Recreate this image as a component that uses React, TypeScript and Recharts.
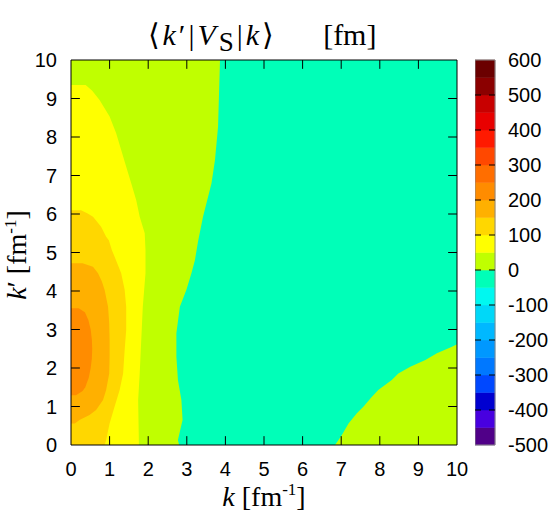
import React from 'react';
import { ComposedChart, Area, XAxis, YAxis, CartesianGrid, ReferenceArea, ReferenceLine } from 'recharts';

// Contour edges: for each k' row, the k where the level ends
const c0Kp = [0, 0.13, 0.65, 1.17, 1.69, 2.29, 2.9, 3.59, 4.03, 4.46, 4.8, 5.28, 5.93, 6.8, 7.4, 8.27, 10];
const c0K = [2.8, 2.77, 2.89, 2.86, 2.77, 2.73, 2.73, 2.82, 2.99, 3.12, 3.21, 3.29, 3.42, 3.64, 3.73, 3.81, 3.86];

const c50Kp = [0, 0.56, 1.17, 1.86, 2.73, 3.59, 4.46, 5.06, 5.5, 5.93, 6.36, 6.8, 7.23, 7.66, 8.1, 8.53, 8.96, 9.2, 9.35];
const c50K = [1.76, 1.75, 1.74, 1.78, 1.82, 1.86, 1.93, 1.93, 1.91, 1.78, 1.69, 1.56, 1.43, 1.3, 1.17, 1.0, 0.74, 0.55, 0.38];

const c100Kp = [0, 0.13, 0.56, 1.0, 1.43, 1.86, 2.47, 2.99, 3.59, 4.03, 4.46, 4.89, 5.06, 5.32, 5.41, 5.67, 5.93, 6.02, 6.1];
const c100K = [0.87, 0.91, 1.0, 1.13, 1.26, 1.35, 1.39, 1.43, 1.43, 1.39, 1.3, 1.13, 1.06, 0.98, 0.91, 0.78, 0.57, 0.42, 0.26];

const c150Kp = [0.56, 0.65, 0.78, 0.91, 1.17, 1.43, 1.86, 2.29, 2.73, 3.16, 3.59, 4.03, 4.25, 4.46, 4.63, 4.72];
const c150K = [0.1, 0.22, 0.48, 0.65, 0.83, 0.91, 0.99, 1.0, 1.0, 0.99, 0.96, 0.87, 0.8, 0.7, 0.57, 0.3];

const c200Kp = [1.29, 1.4, 1.5, 1.75, 2.0, 2.25, 2.5, 2.75, 3.0, 3.25, 3.45, 3.55];
const c200K = [0.13, 0.3, 0.37, 0.46, 0.51, 0.54, 0.55, 0.54, 0.51, 0.45, 0.36, 0.2];

// lower-right positive pocket, filled from the edge out to k = 10
const cRKp = [0, 0.13, 0.3, 0.56, 0.82, 1.0, 1.25, 1.43, 1.69, 1.86, 2.03, 2.21, 2.38, 2.55, 2.62];
const cRK = [6.84, 6.93, 7.04, 7.19, 7.4, 7.58, 7.79, 7.96, 8.31, 8.48, 8.79, 9.18, 9.48, 9.87, 10];

const axisTicks = [0, 1, 2, 3, 4, 5, 6, 7, 8, 9, 10];

// colour bar, bottom to top
const cbLow = [-500, -450, -400, -350, -300, -250, -200, -150, -100, -50, 0, 50, 100, 150, 200, 250, 300, 350, 400, 450, 500, 550];
const cbColors = ['#500088', '#4800e0', '#0000d0', '#0048ff', '#0078ff', '#0098ff', '#00b8ff', '#00d8f8', '#00f8f0', '#00ffb8',
    '#c0ff00', '#ffff00', '#ffd700', '#ffb000', '#ff8c00', '#ff6e00', '#ff4800', '#ff1a00', '#e80000', '#c80000', '#8b0000', '#6b0000'];
const cbTicks = [-500, -400, -300, -200, -100, 0, 100, 200, 300, 400, 500, 600];

const contours = [
    { key: 'c0', kp: c0Kp, k: c0K, color: '#c0ff00', base: 0 },
    { key: 'cR', kp: cRKp, k: cRK, color: '#c0ff00', base: 10 },
    { key: 'c50', kp: c50Kp, k: c50K, color: '#ffff00', base: 0 },
    { key: 'c100', kp: c100Kp, k: c100K, color: '#ffd700', base: 0 },
    { key: 'c150', kp: c150Kp, k: c150K, color: '#ffb000', base: 0 },
    { key: 'c200', kp: c200Kp, k: c200K, color: '#ff8c00', base: 0 },
];

const table = Array.from(new Set(contours.flatMap(c => c.kp)))
    .sort((a, b) => a - b)
    .map(kp => {
        const row: any = { kp };
        contours.forEach(c => {
            const i = c.kp.indexOf(kp);
            row[c.key] = i >= 0 ? c.k[i] : null;
        });
        return row;
    });

const tickFont = { fontFamily: 'Liberation Sans, Arial, sans-serif', fontSize: 20, fill: '#000' };
const serif = 'Liberation Serif, Times New Roman, serif';
const TICK = 0.23; // inward tick length in axis units (~9px)

const App = () => {
    return (
        <div style={{ position: 'absolute', left: 0, top: 0, width: 548, height: 515 }}>
            <div style={{ position: 'absolute', left: 0, top: 0 }}>
                <ComposedChart
                    width={548}
                    height={515}
                    layout="vertical"
                    data={table}
                    margin={{ top: 30, right: 61, left: 41, bottom: 40 }}
                >
                    <CartesianGrid fill="#00ffb8" horizontal={false} vertical={false} stroke="none" />
                    {contours.map(c => (
                        <Area
                            key={c.key}
                            dataKey={c.key}
                            type="linear"
                            baseValue={c.base}
                            stroke="none"
                            fill={c.color}
                            fillOpacity={1}
                            connectNulls
                            dot={false}
                            activeDot={false}
                            isAnimationActive={false}
                        />
                    ))}
                    <XAxis
                        type="number"
                        domain={[0, 10]}
                        ticks={axisTicks}
                        interval={0}
                        height={30}
                        tickLine={false}
                        tickSize={0}
                        tickMargin={17}
                        stroke="#000"
                        tick={tickFont}
                        allowDataOverflow
                    />
                    <XAxis
                        xAxisId="top"
                        orientation="top"
                        type="number"
                        domain={[0, 10]}
                        height={30}
                        tickLine={false}
                        stroke="#000"
                        tick={false}
                        allowDataOverflow
                    />
                    <YAxis
                        type="number"
                        dataKey="kp"
                        domain={[0, 10]}
                        ticks={axisTicks}
                        interval={0}
                        reversed
                        width={30}
                        tickLine={false}
                        tickSize={0}
                        tickMargin={14}
                        stroke="#000"
                        tick={tickFont}
                        allowDataOverflow
                    />
                    <YAxis
                        yAxisId="right"
                        orientation="right"
                        type="number"
                        domain={[0, 10]}
                        reversed
                        width={30}
                        tickLine={false}
                        stroke="#000"
                        tick={false}
                        allowDataOverflow
                    />
                    {/* inward tick marks on all four sides */}
                    {axisTicks.slice(1, -1).map(t => (
                        <ReferenceLine key={'b' + t} segment={[{ x: t, y: 0 }, { x: t, y: TICK }]} stroke="#000" strokeWidth={1} ifOverflow="visible" />
                    ))}
                    {axisTicks.slice(1, -1).map(t => (
                        <ReferenceLine key={'t' + t} segment={[{ x: t, y: 10 - TICK }, { x: t, y: 10 }]} stroke="#000" strokeWidth={1} ifOverflow="visible" />
                    ))}
                    {axisTicks.slice(1, -1).map(t => (
                        <ReferenceLine key={'l' + t} segment={[{ x: 0, y: t }, { x: TICK, y: t }]} stroke="#000" strokeWidth={1} ifOverflow="visible" />
                    ))}
                    {axisTicks.slice(1, -1).map(t => (
                        <ReferenceLine key={'r' + t} segment={[{ x: 10 - TICK, y: t }, { x: 10, y: t }]} stroke="#000" strokeWidth={1} ifOverflow="visible" />
                    ))}
                </ComposedChart>
            </div>

            {/* colour bar */}
            <div style={{ position: 'absolute', left: 475, top: 0 }}>
                <ComposedChart
                    width={73}
                    height={515}
                    data={[{ x: 0 }, { x: 1 }]}
                    margin={{ top: 60, right: 0, left: 0, bottom: 70 }}
                >
                    <XAxis type="number" dataKey="x" domain={[0, 1]} hide />
                    <YAxis
                        yAxisId="bar"
                        orientation="right"
                        type="number"
                        domain={[-500, 600]}
                        ticks={cbTicks}
                        interval={0}
                        width={53}
                        tickLine={false}
                        tickSize={0}
                        tickMargin={13}
                        axisLine={false}
                        tick={{ ...tickFont, textAnchor: 'start' }}
                        allowDataOverflow
                    />
                    {cbLow.map((lo, i) => (
                        <ReferenceArea
                            key={lo}
                            yAxisId="bar"
                            x1={0}
                            x2={1}
                            y1={lo}
                            y2={lo + 50}
                            fill={cbColors[i]}
                            fillOpacity={1}
                            stroke={cbColors[i]}
                            strokeWidth={0.5}
                        />
                    ))}
                    {cbTicks.slice(1, -1).map(t => (
                        <ReferenceLine key={'cl' + t} yAxisId="bar" segment={[{ x: 0, y: t }, { x: 0.3, y: t }]} stroke="#000" strokeWidth={1} ifOverflow="visible" />
                    ))}
                    {cbTicks.slice(1, -1).map(t => (
                        <ReferenceLine key={'cr' + t} yAxisId="bar" segment={[{ x: 0.7, y: t }, { x: 1, y: t }]} stroke="#000" strokeWidth={1} ifOverflow="visible" />
                    ))}
                    <ReferenceArea yAxisId="bar" x1={0} x2={1} y1={-500} y2={600} fill="none" stroke="#888" strokeWidth={1} />
                </ComposedChart>
            </div>

            {/* titles */}
            <div style={{ position: 'absolute', left: 62, width: 400, top: 15, textAlign: 'center', fontFamily: serif, fontSize: 30, lineHeight: '40px', color: '#000', whiteSpace: 'nowrap' }}>
                <span style={{ letterSpacing: 3 }}>
                    ⟨<i>k</i>′|<i>V</i><span style={{ fontSize: 27, position: 'relative', top: 6 }}>S</span>|<i>k</i>⟩
                </span>
                <span style={{ marginLeft: 46 }}>[fm]</span>
            </div>
            <div style={{ position: 'absolute', left: 114, width: 300, top: 480, textAlign: 'center', fontFamily: serif, fontSize: 28, lineHeight: '34px', color: '#000', whiteSpace: 'nowrap' }}>
                <i>k</i> [fm<span style={{ fontSize: 17, position: 'relative', top: -11 }}>-1</span>]
            </div>
            <div style={{ position: 'absolute', left: 19 - 100, width: 200, top: 253 - 17, textAlign: 'center', fontFamily: serif, fontSize: 28, lineHeight: '34px', color: '#000', whiteSpace: 'nowrap', transform: 'rotate(-90deg)' }}>
                <i>k</i>′ [fm<span style={{ fontSize: 17, position: 'relative', top: -10 }}>-1</span>]
            </div>
        </div>
    );
};

export default App;
